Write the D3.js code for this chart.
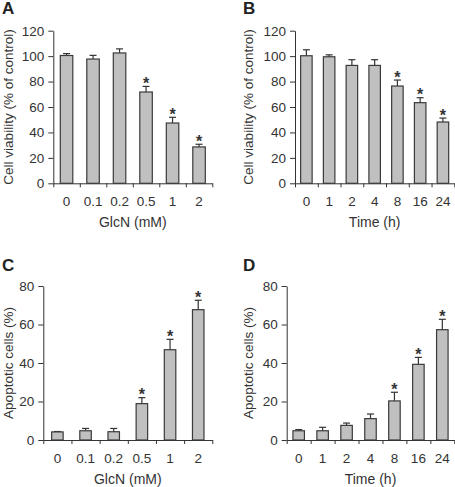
<!DOCTYPE html>
<html>
<head>
<meta charset="utf-8">
<script src="https://cdn.jsdelivr.net/npm/d3@7"></script>
<style>
  html, body { margin: 0; padding: 0; background: #fff; }
  svg { display: block; }
  text { font-family: "Liberation Sans", Arial, Helvetica, sans-serif; fill: #333; }
</style>
</head>
<body>
<svg id="chart" width="455" height="487"></svg>
<script>
// ---- Data ----
const glcnCategories = ["0", "0.1", "0.2", "0.5", "1", "2"];
const timeCategories = ["0", "1", "2", "4", "8", "16", "24"];

const viabilityGlcn = [100.5, 97.7, 102.5, 71.8, 47.4, 28.6];
const viabilityGlcnErr = [1.5, 2.9, 3.2, 4.4, 4.5, 2.1];
const viabilityGlcnSig = [false, false, false, true, true, true];

const viabilityTime = [100.3, 99.5, 92.7, 92.7, 76.5, 63.4, 48.2];
const viabilityTimeErr = [4.7, 1.5, 4.5, 4.5, 4.7, 3.9, 3.1];
const viabilityTimeSig = [false, false, false, false, true, true, true];

const apoptosisGlcn = [4.2, 4.8, 4.3, 18.9, 46.9, 67.7];
const apoptosisGlcnErr = [0.2, 1.2, 1.7, 3.1, 5.4, 4.9];
const apoptosisGlcnSig = [false, false, false, true, true, true];

const apoptosisTime = [4.8, 4.8, 7.6, 11.1, 20.3, 39.3, 57.3];
const apoptosisTimeErr = [0.6, 1.8, 1.2, 2.4, 4.5, 3.6, 5.4];
const apoptosisTimeSig = [false, false, false, false, true, true, true];

const viabilityTicks = [0, 20, 40, 60, 80, 100, 120];
const apoptosisTicks = [0, 20, 40, 60, 80];

const panels = [
  { letter: "A", lx: 2, ly: 14, cats: glcnCategories, vals: viabilityGlcn, errs: viabilityGlcnErr, sig: viabilityGlcnSig,
    yMax: 120, yTicks: viabilityTicks, yTitle: "Cell viability (% of control)", xTitle: "GlcN (mM)",
    x0: 53.3, x1: 212.3, yTop: 30.7, yBot: 183.3, ytx: 13, barW: 12.5 },
  { letter: "B", lx: 243, ly: 14, cats: timeCategories, vals: viabilityTime, errs: viabilityTimeErr, sig: viabilityTimeSig,
    yMax: 120, yTicks: viabilityTicks, yTitle: "Cell viability (% of control)", xTitle: "Time (h)",
    x0: 295, x1: 454.3, yTop: 30.7, yBot: 183.3, ytx: 253, barW: 11.5 },
  { letter: "C", lx: 2, ly: 271, cats: glcnCategories, vals: apoptosisGlcn, errs: apoptosisGlcnErr, sig: apoptosisGlcnSig,
    yMax: 80, yTicks: apoptosisTicks, yTitle: "Apoptotic cells (%)", xTitle: "GlcN (mM)",
    x0: 43.3, x1: 212.3, yTop: 286, yBot: 440, ytx: 13, barW: 11.5 },
  { letter: "D", lx: 243, ly: 271, cats: timeCategories, vals: apoptosisTime, errs: apoptosisTimeErr, sig: apoptosisTimeSig,
    yMax: 80, yTicks: apoptosisTicks, yTitle: "Apoptotic cells (%)", xTitle: "Time (h)",
    x0: 286.7, x1: 454.3, yTop: 286, yBot: 440, ytx: 253, barW: 11.5 }
];

const svg = d3.select("#chart");
const ink = "#333";

panels.forEach(p => {
  const g = svg.append("g");
  const x = d3.scaleBand().domain(p.cats).range([p.x0, p.x1]).paddingInner(0).paddingOuter(0);
  const xb = d3.scaleLinear().domain([0, p.cats.length]).range([p.x0, p.x1]);
  const y = d3.scaleLinear().domain([0, p.yMax]).range([p.yBot, p.yTop]);

  // panel letter
  g.append("text").attr("x", p.lx).attr("y", p.ly)
    .style("font-size", "17px").style("font-weight", "bold").style("fill", "#222")
    .text(p.letter);

  // y axis
  const ya = g.append("g").attr("transform", `translate(${p.x0},0)`)
    .call(d3.axisLeft(y).tickValues(p.yTicks).tickSize(5).tickPadding(4).tickSizeOuter(0));
  ya.selectAll("path,line").attr("stroke", ink).attr("stroke-width", 1);
  ya.selectAll("text").style("font-size", "13.5px").attr("fill", ink)
    .style("font-family", '"Liberation Sans", Arial, sans-serif');

  // x axis: boundary ticks
  const xa = g.append("g").attr("transform", `translate(0,${p.yBot})`)
    .call(d3.axisBottom(xb).tickValues(d3.range(p.cats.length + 1)).tickFormat("").tickSize(4).tickSizeOuter(0));
  xa.selectAll("path,line").attr("stroke", ink).attr("stroke-width", 1);

  // x labels
  const xl = g.append("g").attr("transform", `translate(0,${p.yBot})`)
    .call(d3.axisBottom(x).tickSize(0).tickPadding(13.5));
  xl.select(".domain").remove();
  xl.selectAll("text").style("font-size", "13.5px").attr("fill", ink)
    .style("font-family", '"Liberation Sans", Arial, sans-serif');

  // y title
  g.append("text")
    .attr("transform", `translate(${p.ytx},${(p.yTop + p.yBot) / 2}) rotate(-90)`)
    .attr("text-anchor", "middle").style("font-size", "13.5px")
    .text(p.yTitle);

  // x title
  g.append("text")
    .attr("x", (p.x0 + p.x1) / 2).attr("y", p.yBot + 43.5)
    .attr("text-anchor", "middle").style("font-size", "14px")
    .text(p.xTitle);

  const data = p.cats.map((c, i) => ({ c, v: p.vals[i], e: p.errs[i], s: p.sig[i] }));

  // error bars
  const eb = g.selectAll(".eb").data(data).enter().append("g");
  eb.append("line")
    .attr("x1", d => x(d.c) + x.bandwidth() / 2).attr("x2", d => x(d.c) + x.bandwidth() / 2)
    .attr("y1", d => y(d.v)).attr("y2", d => y(d.v + d.e))
    .attr("stroke", ink).attr("stroke-width", 1.2);
  eb.append("line")
    .attr("x1", d => x(d.c) + x.bandwidth() / 2 - 3.5).attr("x2", d => x(d.c) + x.bandwidth() / 2 + 3.5)
    .attr("y1", d => y(d.v + d.e)).attr("y2", d => y(d.v + d.e))
    .attr("stroke", ink).attr("stroke-width", 1.2);

  // bars
  g.selectAll(".bar").data(data).enter().append("rect")
    .attr("x", d => x(d.c) + x.bandwidth() / 2 - p.barW / 2)
    .attr("width", p.barW)
    .attr("y", d => y(d.v))
    .attr("height", d => y(0) - y(d.v))
    .attr("fill", "#c0c0c0").attr("stroke", "#3a3a3a").attr("stroke-width", 1.2);

  // significance stars
  g.selectAll(".star").data(data.filter(d => d.s)).enter().append("text")
    .attr("x", d => x(d.c) + x.bandwidth() / 2)
    .attr("y", d => y(d.v + d.e) + 2.5)
    .attr("text-anchor", "middle")
    .style("font-size", "16px").style("font-weight", "bold")
    .text("*");
});
</script>
</body>
</html>
